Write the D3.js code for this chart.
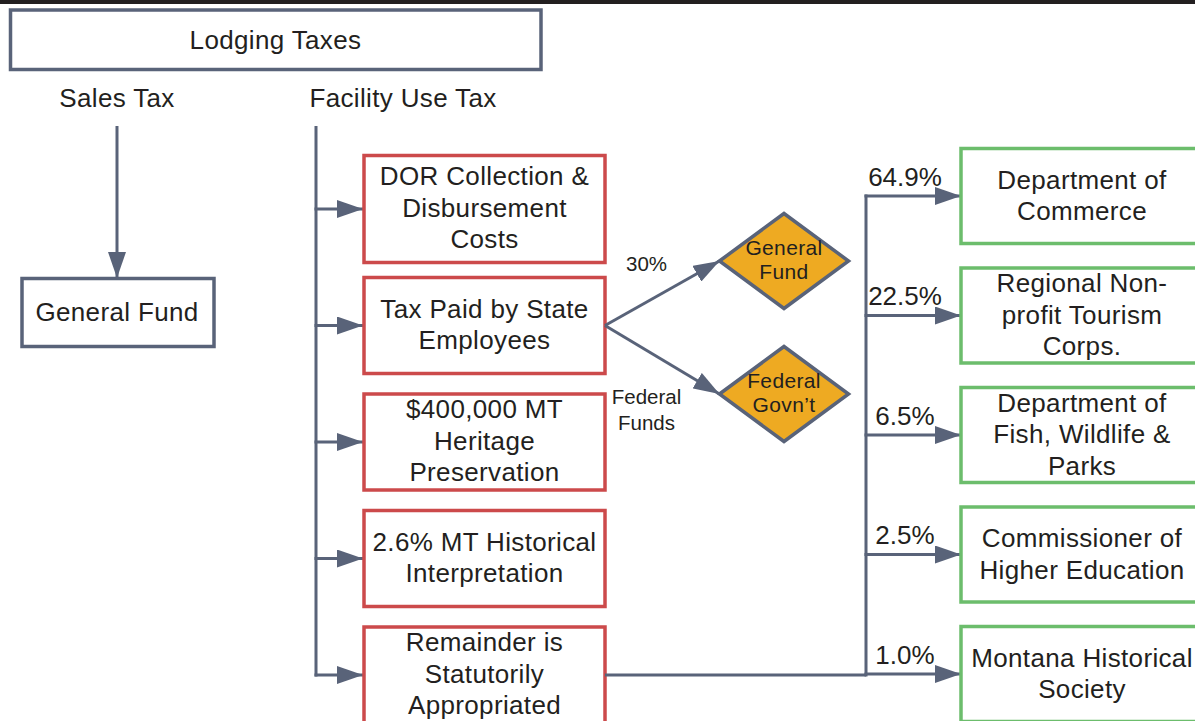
<!DOCTYPE html>
<html>
<head>
<meta charset="utf-8">
<script src="https://cdn.jsdelivr.net/npm/d3@7"></script>
<style>
  html, body { margin: 0; padding: 0; background: #fff; overflow: hidden; }
  svg { display: block; }
  text { font-family: "Liberation Sans", Arial, Helvetica, sans-serif; fill: #231f20; }
</style>
</head>
<body>
<svg id="chart" width="1195" height="721"></svg>
<script>
// ---------------- data ----------------
const rootLabel = "Lodging Taxes";
const taxTypes = ["Sales Tax", "Facility Use Tax"];
const salesTaxDestination = "General Fund";
const facilityUses = [
  "DOR Collection &\nDisbursement\nCosts",
  "Tax Paid by State\nEmployees",
  "$400,000 MT\nHeritage\nPreservation",
  "2.6% MT Historical\nInterpretation",
  "Remainder is\nStatutorily\nAppropriated"
];
const splitLabels = ["30%", "Federal\nFunds"];
const splitDestinations = ["General\nFund", "Federal\nGovn\u2019t"];
const recipients = [
  "Department of\nCommerce",
  "Regional Non-\nprofit Tourism\nCorps.",
  "Department of\nFish, Wildlife &\nParks",
  "Commissioner of\nHigher Education",
  "Montana Historical\nSociety"
];
const recipientShares = [64.9, 22.5, 6.5, 2.5, 1.0];

// ---------------- style ----------------
const SLATE = "#596379", RED = "#cc4a4b", GREEN = "#6cbd6c", GOLD = "#eeaa22";
const BIG = 26, SMALL = 21, LH = 31.5, LH_SMALL = 24, SPACING = "0.35px";

const svg = d3.select("#chart");

// top dark rule
svg.append("rect").attr("x", 0).attr("y", 0).attr("width", 1195).attr("height", 4).attr("fill", "#231f20");

const defs = svg.append("defs");
defs.append("marker")
  .attr("id", "arrow").attr("viewBox", "0 0 26 18")
  .attr("refX", 26).attr("refY", 9)
  .attr("markerWidth", 26).attr("markerHeight", 18)
  .attr("markerUnits", "userSpaceOnUse").attr("orient", "auto")
  .append("path").attr("d", "M0,0L26,9L0,18Z").attr("fill", SLATE);

function multiline(g, str, cx, cy, size, lh) {
  const lines = str.split("\n");
  const t = g.append("text").attr("text-anchor", "middle")
    .style("font-size", size + "px").style("letter-spacing", SPACING);
  lines.forEach((l, i) => {
    t.append("tspan").attr("x", cx)
      .attr("y", cy + (i - (lines.length - 1) / 2) * lh + size * 0.34)
      .text(l);
  });
  return t;
}

// ---------------- layout scales ----------------
const colX = d3.scalePoint().domain(["sales", "facility"]).range([117, 316]);
const yRed = d3.scaleLinear().domain([0, facilityUses.length - 1]).range([209, 675]);
const yGreen = d3.scaleLinear().domain([0, recipients.length - 1]).range([196, 674]);
const yDiamond = d3.scalePoint().domain(splitDestinations).range([261, 394]);

const redX = 363, redW = 241;
const greenX = 961, greenW = 242;
const trunkX = 866;

// ---------------- root ----------------
svg.append("rect").attr("x", 10.5).attr("y", 10).attr("width", 530.5).attr("height", 59.5)
  .attr("fill", "#fff").attr("stroke", SLATE).attr("stroke-width", 3.5);
multiline(svg, rootLabel, 275.5, 40, BIG, LH);

// tax type headers
taxTypes.forEach((t, i) => {
  const key = colX.domain()[i];
  const cx = i === 0 ? colX(key) : colX(key) + 87;
  svg.append("text").attr("x", cx).attr("y", 107).attr("text-anchor", "middle")
    .style("font-size", BIG + "px").style("letter-spacing", SPACING).text(t);
});

// Sales tax -> general fund
svg.append("line").attr("x1", colX("sales")).attr("y1", 126).attr("x2", colX("sales")).attr("y2", 278)
  .attr("stroke", SLATE).attr("stroke-width", 3).attr("marker-end", "url(#arrow)");
svg.append("rect").attr("x", 22).attr("y", 278.5).attr("width", 192).attr("height", 68)
  .attr("fill", "#fff").attr("stroke", SLATE).attr("stroke-width", 3.5);
multiline(svg, salesTaxDestination, colX("sales"), 312.5, BIG, LH);

// Facility use trunk
const lastRed = yRed(facilityUses.length - 1);
svg.append("line").attr("x1", colX("facility")).attr("y1", 126).attr("x2", colX("facility")).attr("y2", lastRed + 1.5)
  .attr("stroke", SLATE).attr("stroke-width", 3);

facilityUses.forEach((u, i) => {
  const cy = yRed(i);
  const h = i === 0 ? 107 : 96;
  svg.append("line").attr("x1", colX("facility") - 1.5).attr("y1", cy).attr("x2", redX).attr("y2", cy)
    .attr("stroke", SLATE).attr("stroke-width", 3).attr("marker-end", "url(#arrow)");
  svg.append("rect").attr("x", redX + 1).attr("y", cy - h / 2).attr("width", redW).attr("height", h)
    .attr("fill", "#fff").attr("stroke", RED).attr("stroke-width", 3.5);
  multiline(svg, u, redX + 1 + redW / 2, cy - 1, BIG, LH);
});

// State employee split
const splitFromX = redX + 1 + redW, splitFromY = yRed(1);
const dHW = 64.5, dHH = 47.5, dCX = 784;
splitDestinations.forEach((d, i) => {
  const cy = yDiamond(d);
  svg.append("line").attr("x1", splitFromX).attr("y1", splitFromY).attr("x2", dCX - dHW).attr("y2", cy)
    .attr("stroke", SLATE).attr("stroke-width", 3).attr("marker-end", "url(#arrow)");
  svg.append("path")
    .attr("d", `M${dCX - dHW},${cy}L${dCX},${cy - dHH}L${dCX + dHW},${cy}L${dCX},${cy + dHH}Z`)
    .attr("fill", GOLD).attr("stroke", SLATE).attr("stroke-width", 3.5);
  multiline(svg, d, dCX, cy - 1, SMALL, LH_SMALL);
  const lbl = splitLabels[i].split("\n");
  const t = svg.append("text").attr("text-anchor", "middle").style("font-size", "20.5px");
  lbl.forEach((l, j) => t.append("tspan").attr("x", 646.5).attr("y", cy + 10 + j * 26).text(l));
});

// Remainder distribution
const remY = yRed(facilityUses.length - 1);
svg.append("line").attr("x1", splitFromX).attr("y1", remY).attr("x2", trunkX).attr("y2", remY)
  .attr("stroke", SLATE).attr("stroke-width", 3);
svg.append("line").attr("x1", trunkX).attr("y1", yGreen(0) - 1.5).attr("x2", trunkX).attr("y2", remY + 1.5)
  .attr("stroke", SLATE).attr("stroke-width", 3);

recipients.forEach((r, i) => {
  const cy = yGreen(i);
  svg.append("line").attr("x1", trunkX - 1.5).attr("y1", cy).attr("x2", greenX).attr("y2", cy)
    .attr("stroke", SLATE).attr("stroke-width", 3).attr("marker-end", "url(#arrow)");
  svg.append("text").attr("x", 905).attr("y", cy - 10.5).attr("text-anchor", "middle")
    .style("font-size", BIG + "px").text(d3.format(".1f")(recipientShares[i]) + "%");
  svg.append("rect").attr("x", greenX).attr("y", cy - 47.5).attr("width", greenW).attr("height", 95)
    .attr("fill", "#fff").attr("stroke", GREEN).attr("stroke-width", 3.5);
  multiline(svg, r, greenX + greenW / 2, cy - 0.5, BIG, LH);
});
</script>
</body>
</html>
